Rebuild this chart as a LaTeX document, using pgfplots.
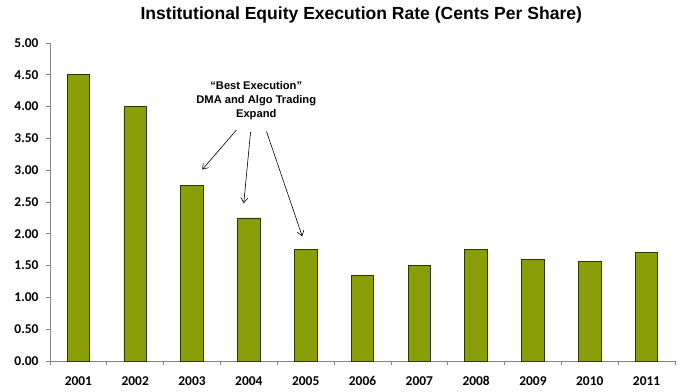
\documentclass[border=0pt]{standalone}
\usepackage{fontspec}
\setmainfont{Liberation Sans}
\newfontfamily\calibri{Carlito}
\usepackage{pgfplots}
\pgfplotsset{compat=1.18}
\usetikzlibrary{arrows.meta}
\definecolor{barfill}{RGB}{138,158,8}
\definecolor{bardraw}{RGB}{45,55,0}
\definecolor{axgray}{RGB}{134,134,134}
\begin{document}
\begin{tikzpicture}
\begin{axis}[
  scale only axis, width=625bp, height=318bp,
  xmin=-0.5, xmax=10.5, ymin=0, ymax=5,
  axis x line*=bottom, axis y line*=left,
  axis line style={axgray, line width=0.8pt},
  tick style={axgray, line width=0.8pt},
  tick align=outside, major tick length=4bp,
  xtick={-0.5,0.5,...,10.5},
  x tick label as interval,
  xticklabels={2001,2002,2003,2004,2005,2006,2007,2008,2009,2010,2011},
  ytick={0,0.5,...,5},
  /pgf/number format/assume math mode=true,
  yticklabel style={/pgf/number format/fixed, /pgf/number format/fixed zerofill, /pgf/number format/precision=2, xshift=-4bp},
  ticklabel style={font=\calibri\bfseries\fontsize{13.5}{15}\selectfont},
  xticklabel style={yshift=-8bp},
  clip=false,
]
\addplot[ybar, bar width=22.5bp, fill=barfill, draw=bardraw, line width=0.8pt]
coordinates {(0,4.50) (1,4.00) (2,2.76) (3,2.25) (4,1.75) (5,1.35) (6,1.50) (7,1.75) (8,1.60) (9,1.57) (10,1.70)};
\node[font=\fontsize{17.6}{20}\selectfont\bfseries] at (rel axis cs:0.498,1.088) {Institutional Equity Execution Rate (Cents Per Share)};
\node[font=\fontsize{11.2}{14}\selectfont\bfseries, align=center] at (axis cs:3.13,4.10) {“Best Execution”\\DMA and Algo Trading\\Expand};
\draw[-{Straight Barb[length=5bp,width=7bp]}, line width=0.6pt] (axis cs:2.78,3.63) -- (axis cs:2.18,3.01);
\draw[-{Straight Barb[length=5bp,width=7bp]}, line width=0.6pt] (axis cs:3.03,3.60) -- (axis cs:2.91,2.48);
\draw[-{Straight Barb[length=5bp,width=7bp]}, line width=0.6pt] (axis cs:3.31,3.61) -- (axis cs:3.94,1.96);
\end{axis}
\pgfresetboundingbox
\path[use as bounding box] (current axis.south west) ++(-50bp,-31bp) rectangle ++(682bp,392bp);
\end{tikzpicture}
\end{document}
